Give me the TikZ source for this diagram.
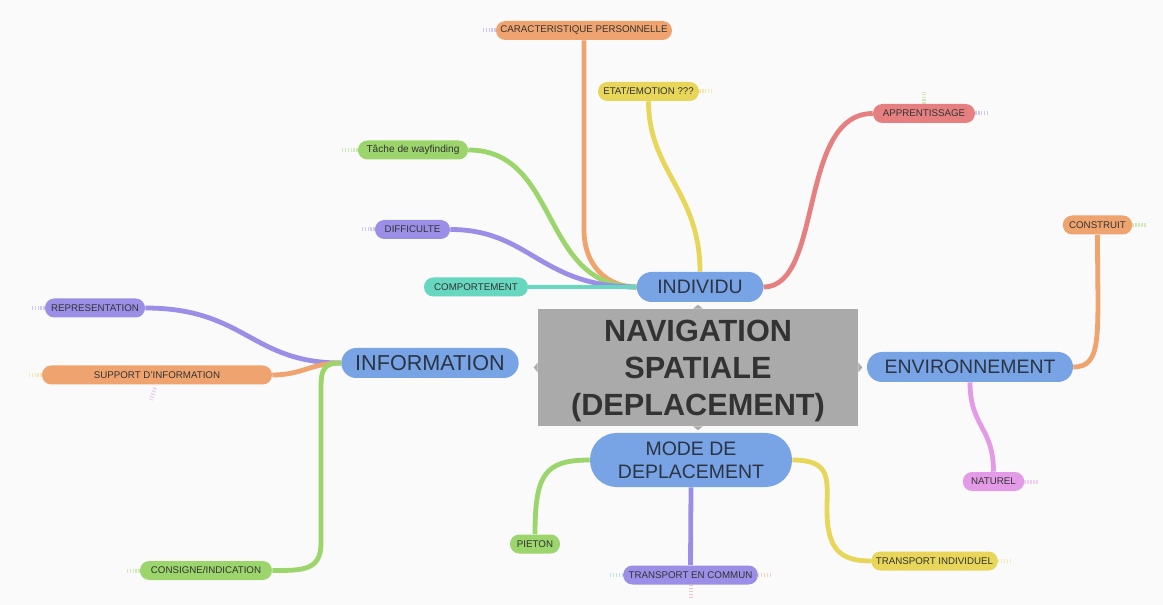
\documentclass[tikz,border=0pt]{standalone}
\usepackage{fontspec}
\setmainfont{Liberation Sans}
\usetikzlibrary{backgrounds}
\definecolor{bgcol}{HTML}{FAFAFA}
\definecolor{navgray}{HTML}{AAAAAA}
\definecolor{ink}{HTML}{333333}
\definecolor{topicink}{HTML}{2B3444}
\definecolor{mainblue}{HTML}{78A3E4}
\definecolor{corange}{HTML}{EFA46F}
\definecolor{cyellow}{HTML}{E8D65A}
\definecolor{cred}{HTML}{E68080}
\definecolor{cgreen}{HTML}{9BD56B}
\definecolor{cpurple}{HTML}{9B8EE6}
\definecolor{cteal}{HTML}{67D7C0}
\definecolor{cpink}{HTML}{E39BE8}
\begin{document}
\begin{tikzpicture}[x=0.75pt,y=0.75pt,line join=round,line cap=round]
		\useasboundingbox (0,0) rectangle (1163,-605);
		\tikzset{
			hub/.style={fill=navgray,text=ink,align=center,minimum width=240pt,minimum height=87.75pt,
				font=\fontsize{23}{27.75}\selectfont\bfseries},
			topic/.style={fill=mainblue,text=topicink,rounded corners=11.25pt,minimum height=22.5pt,
				inner xsep=2pt,align=center,font=\fontsize{14.6}{17.25}\selectfont},
			leaf/.style={fill=#1,text=ink,rounded corners=7pt,minimum height=14.25pt,inner xsep=2pt,
				inner ysep=1pt,font=\fontsize{7.3}{9}\selectfont},
			branch/.style={draw=#1,line width=3.6pt},
			stub/.style={draw=#1,line width=3pt,dash pattern=on 1pt off 1.2pt,line cap=butt,opacity=.45}
		}
		% centre et branches principales
		\node[hub] (nav) at (698,-367.5) {};
		\node[hub,fill=none] (navlabel) at (698,-370.5) {NAVIGATION\\SPATIALE\\(DEPLACEMENT)};
		\node[topic,minimum width=95pt] (ind) at (700,-287) {INDIVIDU};
		\node[topic,minimum width=154.5pt] (env) at (970,-367) {ENVIRONNEMENT};
		\node[topic,minimum width=133pt,font=\fontsize{16.2}{19}\selectfont] (inf) at (430,-363) {INFORMATION};
		\node[topic,minimum width=151.5pt,minimum height=40.5pt,rounded corners=20pt] (mod) at (691,-460) {MODE DE\\DEPLACEMENT};
		% feuilles
		\node[leaf=corange,minimum width=132pt] (car) at (584,-30.5) {CARACTERISTIQUE PERSONNELLE};
		\node[leaf=cyellow,minimum width=75.75pt] (eta) at (648.5,-91.5) {ETAT/EMOTION ???};
		\node[leaf=cred,minimum width=76.5pt] (app) at (924,-113.5) {APPRENTISSAGE};
		\node[leaf=cgreen,minimum width=82.5pt,font=\fontsize{7.6}{9}\selectfont] (tac) at (413,-150) {Tâche de wayfinding};
		\node[leaf=cpurple,minimum width=56.25pt] (dif) at (412.5,-229.5) {DIFFICULTE};
		\node[leaf=cteal,minimum width=78pt] (com) at (476,-287) {COMPORTEMENT};
		\node[leaf=corange,minimum width=52pt] (con) at (1097.5,-225) {CONSTRUIT};
		\node[leaf=cpink,minimum width=46pt] (nat) at (993.5,-481.5) {NATUREL};
		\node[leaf=cpurple,minimum width=75pt] (rep) at (95,-308) {REPRESENTATION};
		\node[leaf=corange,minimum width=172.5pt] (sup) at (157,-375) {SUPPORT D'INFORMATION};
		\node[leaf=cgreen,minimum width=99pt] (cns) at (206,-570.5) {CONSIGNE/INDICATION};
		\node[leaf=cgreen,minimum width=37.5pt] (pie) at (535,-544) {PIETON};
		\node[leaf=cpurple,minimum width=101pt] (tec) at (690.5,-575) {TRANSPORT EN COMMUN};
		\node[leaf=cyellow,minimum width=95pt] (tin) at (934.5,-561) {TRANSPORT INDIVIDUEL};
		\begin{scope}[on background layer]
			\fill[bgcol] (0,0) rectangle (1163,-605);
			% individu
			\draw[branch=corange] (car.south) --(584,-230) ..controls +(-90:35) and +(180:30) ..(ind.west);
			\draw[branch=cyellow] (eta.south) ..controls +(-90:70) and +(90:80) ..(ind.north);
			\draw[branch=cred] (ind.east) ..controls +(0:60) and +(180:75) ..(app.west);
			\draw[branch=cgreen] (tac.east) ..controls +(0:92) and +(180:97) ..(ind.west);
			\draw[branch=cpurple] (dif.east) ..controls +(0:80) and +(180:97) ..(ind.west);
			\draw[branch=cteal] (com.east) --(ind.west);
			% environnement
			\draw[branch=corange] (env.east) ..controls +(0:30) and +(-90:100) ..(con.south);
			\draw[branch=cpink] (env.south) ..controls +(-90:45) and +(90:45) ..(nat.north);
			% information
			\draw[branch=cpurple] (rep.east) ..controls +(0:100) and +(180:90) ..(inf.west);
			\draw[branch=corange] (sup.east) ..controls +(0:30) and +(180:30) ..(inf.west);
			\draw[branch=cgreen] (inf.west) ..controls +(180:22) and +(90:30) ..(321,-403)
				--(321,-543) ..controls +(-90:28) and +(0:30) ..(cns.east);
			% mode de deplacement
			\draw[branch=cgreen] (mod.west) ..controls +(180:45) and +(90:60) ..(pie.north);
			\draw[branch=cpurple] (mod.south) --(tec.north);
			\draw[branch=cyellow] (mod.east) ..controls +(0:40) and +(90:30) ..(827,-510)
				..controls +(-90:40) and +(180:30) ..(tin.west);
		\end{scope}
		% points d'attache du centre
		\fill[navgray] (nav.north) ++(-5,0) --++(5,4) --++(5,-4) --cycle;
		\fill[navgray] (nav.south) ++(-5,0) --++(5,-4) --++(5,4) --cycle;
		\fill[navgray] (nav.west) ++(0,-5) --++(-4,5) --++(4,5) --cycle;
		\fill[navgray] (nav.east) ++(0,-5) --++(4,5) --++(-4,5) --cycle;
		% branches repliees
		\draw[stub=cpurple] (car.west) --++(-14,0);
		\draw[stub=cyellow] (eta.east) --++(14,0);
		\draw[stub=cpurple] (app.east) --++(14,0);
		\draw[stub=cgreen] (app.north) --++(0,12);
		\draw[stub=cgreen] (tac.west) --++(-16,0);
		\draw[stub=cpurple] (dif.west) --++(-14,0);
		\draw[stub=cgreen] (con.east) --++(14,0);
		\draw[stub=cpink] (nat.east) --++(14,0);
		\draw[stub=cpurple] (rep.west) --++(-14,0);
		\draw[stub=cyellow] (sup.west) --++(-14,0);
		\draw[stub=cpink] (155,-388) --++(-4,-12);
		\draw[stub=cgreen] (cns.west) --++(-14,0);
		\draw[stub=cteal] (tec.west) --++(-14,0);
		\draw[stub=corange] (tec.east) --++(14,0);
		\draw[stub=cred] (tec.south) --++(0,-12);
		\draw[stub=cyellow] (tin.east) --++(14,0);
\end{tikzpicture}
\end{document}
